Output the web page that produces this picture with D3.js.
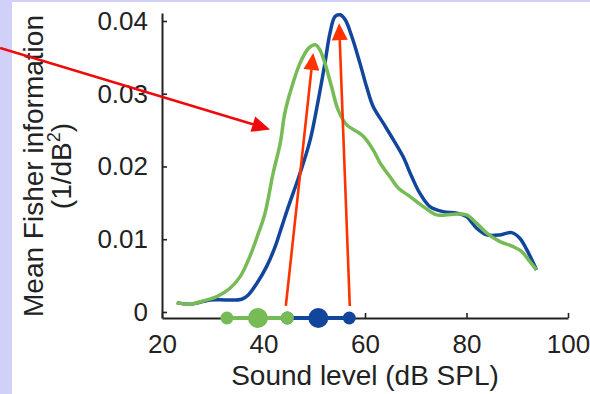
<!DOCTYPE html>
<html>
<head>
<meta charset="utf-8">
<script src="https://cdn.jsdelivr.net/npm/d3@7"></script>
<style>
  html, body { margin: 0; padding: 0; background: #d0d0f8; }
  svg { display: block; }
  text { font-family: "Liberation Sans", Arial, Helvetica, sans-serif; fill: #222; }
</style>
</head>
<body>
<svg id="chart" width="590" height="394"></svg>
<script>
// Sound level (dB SPL) sample positions and mean Fisher information for each condition
const greenLevels = [22.9, 25.5, 28.1, 30.8, 33.4, 35.4, 37.3, 39.0, 40.3, 41.9, 43.3, 44.2, 45.6, 47.2, 48.9, 50.2, 51.1, 52.1, 53.4, 54.7, 56.4, 58.4, 59.7, 61.6, 63.0, 64.9, 66.6, 68.9, 71.5, 74.1, 77.4, 80.0, 82.0, 84.0, 86.6, 89.2, 90.9, 92.5, 93.8];
const greenInfo   = [0.00128, 0.00106, 0.00151, 0.00210, 0.00326, 0.00486, 0.00761, 0.01083, 0.01358, 0.01908, 0.02320, 0.02733, 0.03099, 0.03421, 0.03627, 0.03673, 0.03604, 0.03421, 0.03099, 0.02779, 0.02572, 0.02480, 0.02411, 0.02228, 0.02045, 0.01861, 0.01702, 0.01586, 0.01448, 0.01334, 0.01344, 0.01334, 0.01220, 0.01083, 0.00967, 0.00898, 0.00829, 0.00692, 0.00578];

const blueLevels = [22.9, 25.5, 29.5, 32.7, 35.7, 37.0, 38.7, 40.6, 42.3, 43.6, 44.9, 47.2, 49.2, 50.8, 52.1, 53.1, 54.1, 55.1, 56.1, 57.4, 59.0, 60.3, 61.6, 63.6, 65.6, 67.5, 69.2, 70.8, 72.8, 75.4, 78.1, 80.0, 82.0, 84.0, 86.6, 88.9, 90.5, 91.9, 93.8];
const blueInfo   = [0.00128, 0.00106, 0.00165, 0.00165, 0.00175, 0.00234, 0.00395, 0.00623, 0.00898, 0.01173, 0.01448, 0.01908, 0.02366, 0.02916, 0.03421, 0.03834, 0.04062, 0.04085, 0.04017, 0.03787, 0.03421, 0.03099, 0.02824, 0.02596, 0.02366, 0.02136, 0.01861, 0.01633, 0.01448, 0.01380, 0.01358, 0.01311, 0.01151, 0.01059, 0.01059, 0.01091, 0.01014, 0.00853, 0.00578];

// Markers along the level axis (middle one is the large dot)
const greenMarks = [32.8, 38.9, 44.7];
const blueMarks  = [44.7, 50.8, 56.9];

// Axis ticks
const xTicks = [20, 40, 60, 80, 100];
const yTicks = [0, 0.01, 0.02, 0.03, 0.04];

// Annotation arrows: [fromLevel, fromInfo, toLevel, toInfo]
const peakArrows = [[44.4, 0.00083, 49.8, 0.0356], [57.0, 0.00083, 54.9, 0.0397]];
const pointerArrow = [-11.9, 0.0363, 41.3, 0.0251];

const svg = d3.select("#chart");
const GREEN = "#76bb55", BLUE = "#12459c";

svg.append("rect").attr("x", 12).attr("y", 2).attr("width", 578).attr("height", 392).attr("fill", "#ffffff");

const x = d3.scaleLinear().domain([20, 100]).range([162, 568]);
const y = d3.scaleLinear().domain([-0.00083, 0.0411]).range([318, 13]);

// Axes
const yAxis = svg.append("g").attr("transform", `translate(${x(20)},0)`)
  .call(d3.axisLeft(y).tickValues(yTicks).tickSize(-5).tickSizeOuter(0).tickPadding(14)
    .tickFormat(d => d === 0 ? "0" : d3.format(".2f")(d)));
const xAxis = svg.append("g").attr("transform", `translate(0,${y(-0.00083)})`)
  .call(d3.axisBottom(x).tickValues(xTicks).tickSize(-5).tickSizeOuter(0).tickPadding(17));
[yAxis, xAxis].forEach(g => {
  g.selectAll("path.domain").attr("stroke", "#222").attr("stroke-width", 2);
  g.selectAll(".tick line").attr("stroke", "#222").attr("stroke-width", 1.6);
  g.selectAll(".tick text").attr("font-size", 26).attr("fill", "#222")
    .attr("font-family", "'Liberation Sans', Arial, sans-serif");
});

// Axis titles
svg.append("text").attr("x", x(60)).attr("y", 385).attr("text-anchor", "middle")
  .attr("font-size", 28).text("Sound level (dB SPL)");
const yt = svg.append("text").attr("transform", "translate(43,166) rotate(-90)")
  .attr("text-anchor", "middle").attr("font-size", 28);
yt.append("tspan").attr("x", 0).attr("y", 0).text("Mean Fisher information");
const l2 = yt.append("tspan").attr("x", 0).attr("y", 0).attr("dy", 28).text("(1/dB");
l2.append("tspan").attr("font-size", 18).attr("dy", -11).text("2");
l2.append("tspan").attr("dy", 11).text(")");

// Curves
const line = d3.line().x(d => x(d[0])).y(d => y(d[1])).curve(d3.curveCatmullRom.alpha(0.5));
svg.append("path").datum(d3.zip(blueLevels, blueInfo)).attr("d", line)
  .attr("fill", "none").attr("stroke", BLUE).attr("stroke-width", 3.5).attr("stroke-linejoin", "round");
svg.append("path").datum(d3.zip(greenLevels, greenInfo)).attr("d", line)
  .attr("fill", "none").attr("stroke", GREEN).attr("stroke-width", 3.5).attr("stroke-linejoin", "round");

// Markers on the level axis
const markY = y(-0.00083);
function drawMarks(levels, color) {
  svg.append("line").attr("x1", x(d3.min(levels))).attr("x2", x(d3.max(levels)))
    .attr("y1", markY).attr("y2", markY).attr("stroke", color).attr("stroke-width", 4);
  svg.selectAll(null).data(levels).enter().append("circle")
    .attr("cx", d => x(d)).attr("cy", markY)
    .attr("r", (d, i) => i === 1 ? 10 : 6.5).attr("fill", color);
}
drawMarks(blueMarks, BLUE);
drawMarks(greenMarks, GREEN);

// Arrows
function arrow(a, color, width, headLen, headHalf) {
  const x0 = x(a[0]), y0 = y(a[1]), x1 = x(a[2]), y1 = y(a[3]);
  const ang = Math.atan2(y1 - y0, x1 - x0);
  const bx = x1 - headLen * Math.cos(ang), by = y1 - headLen * Math.sin(ang);
  svg.append("line").attr("x1", x0).attr("y1", y0).attr("x2", bx).attr("y2", by)
    .attr("stroke", color).attr("stroke-width", width);
  const px = -Math.sin(ang) * headHalf, py = Math.cos(ang) * headHalf;
  svg.append("path")
    .attr("d", `M${x1},${y1}L${bx + px},${by + py}L${bx - px},${by - py}Z`)
    .attr("fill", color);
}
peakArrows.forEach(a => arrow(a, "#ff3300", 2.6, 17, 8));
arrow(pointerArrow, "#ee0a0a", 2.6, 18, 8);
</script>
</body>
</html>
